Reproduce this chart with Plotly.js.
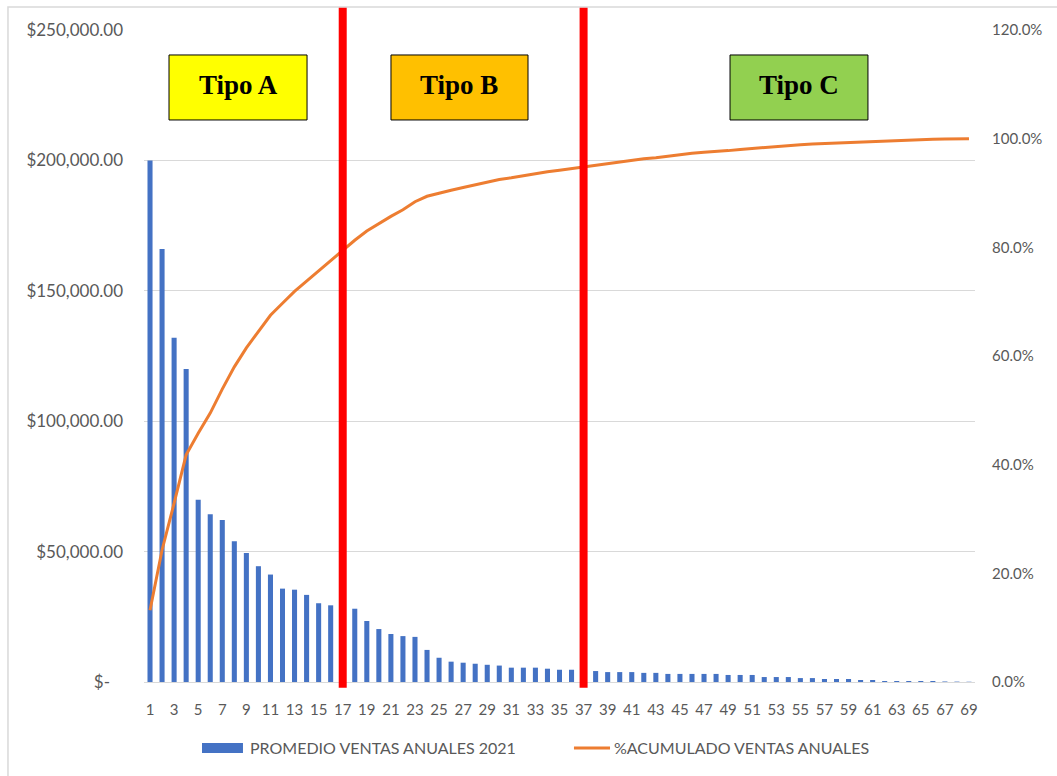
<!DOCTYPE html>
<html>
<head>
<meta charset="utf-8">
<script src="https://cdn.plot.ly/plotly-3.0.1.min.js"></script>
<style>
  html, body { margin: 0; padding: 0; background: #ffffff; }
  #chart { width: 1057px; height: 776px; }
</style>
</head>
<body>
<div id="chart"></div>
<script>
// ---- Data ----
const categories = [1,2,3,4,5,6,7,8,9,10,11,12,13,14,15,16,17,18,19,20,21,22,23,24,25,26,27,28,29,30,
  31,32,33,34,35,36,37,38,39,40,41,42,43,44,45,46,47,48,49,50,51,52,53,54,55,56,57,58,59,60,
  61,62,63,64,65,66,67,68,69];

const promedioVentas2021 = [200000,166000,132000,120000,69900,64300,62100,54000,49500,44400,
  41200,35800,35400,33400,30200,29400,28800,28100,23400,20300,
  18400,17600,17300,12300,9300,7800,7400,7000,6600,6300,
  5500,5500,5500,5100,4700,4700,4600,4200,3800,3800,
  3800,3500,3500,3100,3100,3100,3100,3100,2700,2700,
  2700,1900,1900,1900,1500,1500,1150,1150,1150,770,
  770,380,380,380,380,380,200,150,100];

const acumuladoVentas = [0.132,0.243,0.329,0.418,0.458,0.495,0.539,0.580,0.615,0.646,
  0.675,0.697,0.719,0.738,0.757,0.776,0.795,0.813,0.830,0.844,
  0.857,0.869,0.884,0.894,0.900,0.905,0.910,0.915,0.920,0.925,
  0.928,0.932,0.935,0.939,0.942,0.945,0.948,0.951,0.955,0.958,
  0.960,0.963,0.965,0.968,0.971,0.973,0.975,0.976,0.978,0.980,
  0.982,0.984,0.986,0.987,0.989,0.990,0.991,0.992,0.993,0.994,
  0.995,0.996,0.9965,0.997,0.998,0.999,0.9995,1.0,1.0];

const xTickVals = [1,3,5,7,9,11,13,15,17,19,21,23,25,27,29,31,33,35,37,39,41,43,45,47,49,51,53,55,57,59,61,63,65,67,69];
const yTickVals = [0,50000,100000,150000,200000,250000];
const yTickText = ["$-\u00a0\u00a0\u00a0","$50,000.00","$100,000.00","$150,000.00","$200,000.00","$250,000.00"];
const y2TickVals = [0,0.2,0.4,0.6,0.8,1.0,1.2];
const y2TickText = ["0.0%","20.0%","40.0%","60.0%","80.0%","100.0%","120.0%"];

const tipoBoundaries = [17, 37];
const tipoLabels = ["Tipo A", "Tipo B", "Tipo C"];
const tipoColors = ["#FFFF00", "#FFC000", "#92D050"];

const seriesNames = ["PROMEDIO VENTAS ANUALES 2021", "%ACUMULADO VENTAS ANUALES"];
const seriesColors = ["#4472C4", "#ED7D31"];

// ---- Chart ----
const font = "Lato, 'Open Sans', sans-serif";
const gray = "#595959";

const traces = [
  {
    type: "bar",
    x: categories,
    y: promedioVentas2021,
    name: seriesNames[0],
    marker: { color: seriesColors[0] },
    yaxis: "y",
    showlegend: false
  },
  {
    type: "scatter",
    mode: "lines",
    x: categories,
    y: acumuladoVentas,
    name: seriesNames[1],
    line: { color: seriesColors[1], width: 3 },
    yaxis: "y2",
    showlegend: false
  }
];

// Box placements in paper coords (styling only)
const boxes = [
  { x0: 0.0301, x1: 0.1962 },
  { x0: 0.2972, x1: 0.4621 },
  { x0: 0.7052, x1: 0.8712 }
];
const boxY0 = 0.862, boxY1 = 0.9617;

const shapes = [];
// outer chart border
shapes.push({ type: "rect", xref: "paper", yref: "paper", x0: -0.1637, x1: 1.3, y0: -0.4, y1: 1.0353,
  line: { color: "#D9D9D9", width: 1.5 }, fillcolor: "rgba(0,0,0,0)", layer: "below" });
tipoBoundaries.forEach(b => {
  shapes.push({ type: "line", xref: "x", yref: "paper", x0: b, x1: b, y0: -0.009, y1: 1.034,
    line: { color: "#FF0000", width: 8 } });
});
boxes.forEach((bx, i) => {
  shapes.push({ type: "rect", xref: "paper", yref: "paper", x0: bx.x0, x1: bx.x1, y0: boxY0, y1: boxY1,
    fillcolor: tipoColors[i], line: { color: "#000000", width: 1 } });
});

// Legend (drawn to match the Excel-style swatches)
const legY = -0.1012;
shapes.push({ type: "rect", xref: "paper", yref: "paper", x0: 0.0698, x1: 0.1191, y0: -0.1089, y1: -0.0936,
  fillcolor: seriesColors[0], line: { width: 0 } });
shapes.push({ type: "line", xref: "paper", yref: "paper", x0: 0.5174, x1: 0.5608, y0: legY, y1: legY,
  line: { color: seriesColors[1], width: 3 } });

const annotations = boxes.map((bx, i) => ({
  xref: "paper", yref: "paper", x: (bx.x0 + bx.x1) / 2, y: (boxY0 + boxY1) / 2 + 0.004,
  text: "<b>" + tipoLabels[i] + "</b>", showarrow: false,
  font: { family: "'Liberation Serif', 'Times New Roman', serif", size: 27, color: "#000000" },
  xanchor: "center", yanchor: "middle"
}));
annotations.push({ xref: "paper", yref: "paper", x: 0.1251, y: legY, xanchor: "left", yanchor: "middle",
  text: seriesNames[0], showarrow: false, font: { family: font, size: 16, color: gray } });
annotations.push({ xref: "paper", yref: "paper", x: 0.5632, y: legY, xanchor: "left", yanchor: "middle",
  text: seriesNames[1], showarrow: false, font: { family: font, size: 16, color: gray } });

const layout = {
  width: 1057,
  height: 776,
  margin: { l: 144, r: 82, t: 30, b: 94, pad: 0 },
  paper_bgcolor: "#ffffff",
  plot_bgcolor: "#ffffff",
  bargap: 0.58,
  showlegend: false,
  xaxis: {
    range: [0.5, 69.5],
    tickmode: "array",
    tickvals: xTickVals,
    ticktext: xTickVals.map(String),
    tickangle: 0,
    showgrid: false,
    zeroline: false,
    showline: true,
    linecolor: "#D9D9D9",
    linewidth: 1,
    ticks: "",
    ticklabelstandoff: 14,
    tickfont: { family: font, size: 15, color: gray }
  },
  yaxis: {
    range: [0, 250000],
    tickmode: "array",
    tickvals: yTickVals,
    ticktext: yTickText,
    showgrid: true,
    gridcolor: "#D9D9D9",
    gridwidth: 1,
    zeroline: false,
    showline: false,
    ticks: "",
    ticklabelstandoff: 20,
    tickfont: { family: font, size: 17, color: gray }
  },
  yaxis2: {
    range: [0, 1.2],
    overlaying: "y",
    side: "right",
    tickmode: "array",
    tickvals: y2TickVals,
    ticktext: y2TickText,
    showgrid: false,
    zeroline: false,
    showline: false,
    ticks: "",
    ticklabelstandoff: 16,
    tickfont: { family: font, size: 15, color: gray }
  },
  shapes: shapes,
  annotations: annotations
};

Plotly.newPlot("chart", traces, layout, { displayModeBar: false, staticPlot: true });
</script>
</body>
</html>
